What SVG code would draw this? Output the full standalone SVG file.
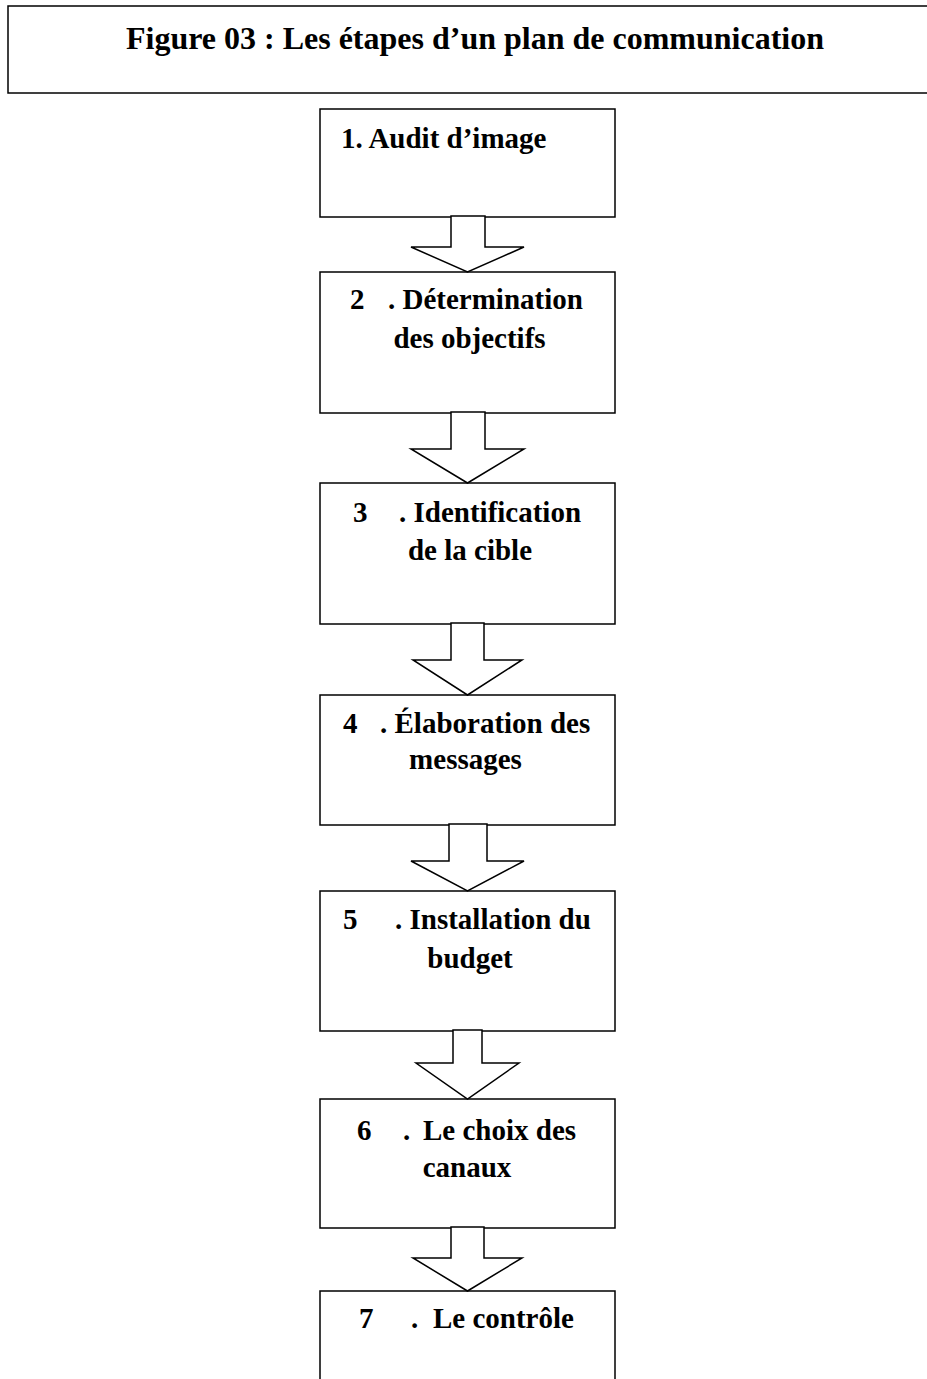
<svg xmlns="http://www.w3.org/2000/svg" width="927" height="1379" viewBox="0 0 927 1379">
<style>
.box{fill:#fff;stroke:#000;stroke-width:1.5}
.arr{fill:#fff;stroke:#000;stroke-width:1.5;stroke-linejoin:miter}
text{font-family:"Liberation Serif","Times New Roman",serif;font-weight:bold;fill:#000}
.t{font-size:29px}
.c{text-anchor:middle}
.title{font-size:32px;text-anchor:middle}
</style>
<rect width="927" height="1379" fill="#fff"/>
<g id="title">
<rect class="box" x="8" y="6" width="930" height="87"/>
<text class="title" x="475" y="49">Figure 03 : Les étapes d’un plan de communication</text>
</g>
<g id="n1">
<rect class="box" x="320" y="109" width="295" height="108"/>
<text class="t" x="341" y="148">1. Audit d’image</text>
</g>
<g id="n2">
<rect class="box" x="320" y="272" width="295" height="141"/>
<text class="t" y="309"><tspan x="350">2</tspan><tspan x="388">. Détermination</tspan></text>
<text class="t c" x="469.5" y="348">des objectifs</text>
</g>
<g id="n3">
<rect class="box" x="320" y="483" width="295" height="141"/>
<text class="t" y="522"><tspan x="353">3</tspan><tspan x="399">. Identification</tspan></text>
<text class="t c" x="470" y="560">de la cible</text>
</g>
<g id="n4">
<rect class="box" x="320" y="695" width="295" height="130"/>
<text class="t" y="733"><tspan x="343">4</tspan><tspan x="380">. Élaboration des</tspan></text>
<text class="t c" x="465.5" y="769">messages</text>
</g>
<g id="n5">
<rect class="box" x="320" y="891" width="295" height="140"/>
<text class="t" y="929"><tspan x="343">5</tspan><tspan x="395">. Installation du</tspan></text>
<text class="t c" x="470" y="968">budget</text>
</g>
<g id="n6">
<rect class="box" x="320" y="1099" width="295" height="129"/>
<text class="t" y="1140"><tspan x="357">6</tspan><tspan x="403">.</tspan><tspan x="423">Le choix des</tspan></text>
<text class="t c" x="467" y="1177">canaux</text>
</g>
<g id="n7">
<rect class="box" x="320" y="1291" width="295" height="110"/>
<text class="t" y="1328"><tspan x="359">7</tspan><tspan x="411">.</tspan><tspan x="433">Le contrôle</tspan></text>
</g>
<g id="connectors">
<polygon class="arr" points="451,216 451,247 411,247 467.5,272 524,247 485,247 485,216"/>
<polygon class="arr" points="451,412 451,449 411,449 467.5,483 524,449 485,449 485,412"/>
<polygon class="arr" points="451,623 451,660 413,660 467.5,695 522,660 484,660 484,623"/>
<polygon class="arr" points="449,824 449,861 411,861 467.5,891 524,861 487,861 487,824"/>
<polygon class="arr" points="453,1030 453,1063 416,1063 467.5,1099 519,1063 482,1063 482,1030"/>
<polygon class="arr" points="451,1227 451,1258 413,1258 467.5,1291 522,1258 484,1258 484,1227"/>
</g>
</svg>
